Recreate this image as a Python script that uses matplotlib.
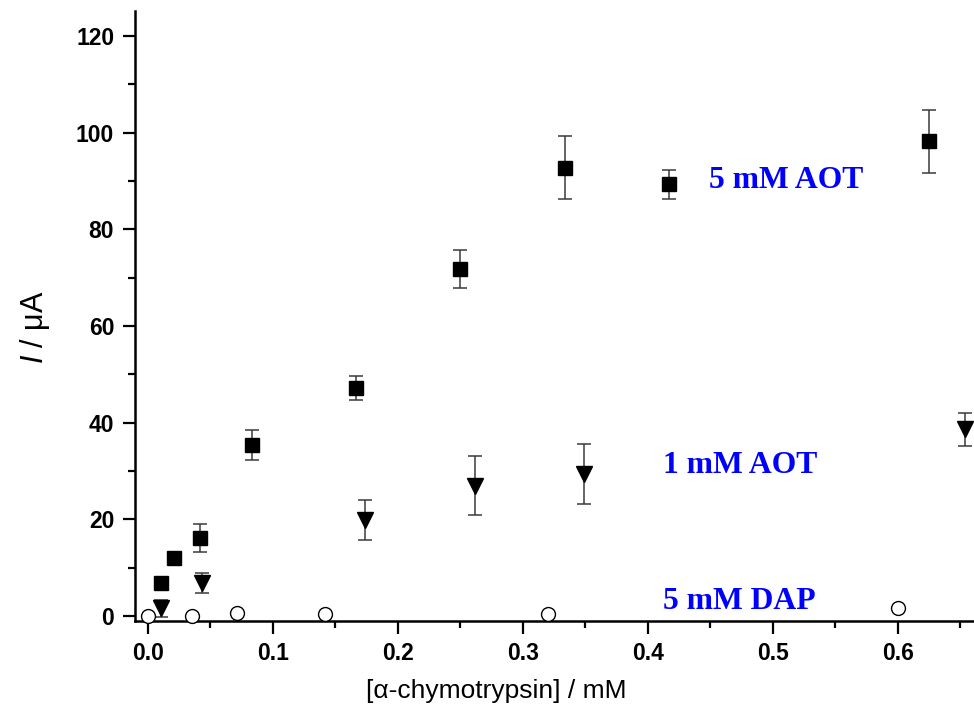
import numpy as np
import matplotlib
matplotlib.use("Agg")
import matplotlib.pyplot as plt
from matplotlib.ticker import MultipleLocator

# ── Datos ───────────────────────────────────────────────────
aot5_x   = [0.0104, 0.0208, 0.0417, 0.0833, 0.1667, 0.25, 0.3333, 0.4167, 0.625]
aot5_y   = [6.9, 12.0, 16.1, 35.4, 47.2, 71.8, 92.8, 89.3, 98.2]
aot5_err = [0.0, 0.0, 2.9, 3.1, 2.5, 4.0, 6.6, 3.0, 6.6]

aot1_x   = [0.0104, 0.0430, 0.1740, 0.2616, 0.3490, 0.6536]
aot1_y   = [1.6, 6.9, 19.9, 27.0, 29.4, 38.6]
aot1_err = [1.7, 2.1, 4.1, 6.1, 6.2, 3.5]

dap_x = [0.0, 0.035, 0.071, 0.142, 0.32, 0.60]
dap_y = [0.0, 0.0, 0.6, 0.5, 0.4, 1.6]

etiquetas = ["5 mM AOT", "1 mM AOT", "5 mM DAP"]
etiq_x = [0.449, 0.412, 0.412]
etiq_y = [90.2, 31.2, 3.1]

plt.rcParams["font.family"] = ["Liberation Sans", "DejaVu Sans"]
plt.rcParams["mathtext.fontset"] = "custom"
plt.rcParams["mathtext.it"] = "Liberation Sans:italic"
plt.rcParams["mathtext.rm"] = "Liberation Sans"

fig = plt.figure(figsize=(9.74, 7.18), dpi=100)
ax = fig.add_axes([0.1386, 0.1351, 0.8614, 0.8496])

ERR = "#3a3a3a"
ax.errorbar(aot5_x, aot5_y, yerr=aot5_err, fmt="s", color="black", ms=9.5,
            ecolor=ERR, elinewidth=1.1, capsize=4.8, capthick=1.1, zorder=3)
ax.errorbar(aot1_x, aot1_y, yerr=aot1_err, fmt="v", color="black", ms=11.5,
            ecolor=ERR, elinewidth=1.1, capsize=4.8, capthick=1.1, zorder=3)
ax.plot(dap_x, dap_y, "o", mfc="white", mec="black", ms=10, mew=1.0,
        zorder=3, clip_on=False)

for t, x, y in zip(etiquetas, etiq_x, etiq_y):
    ax.text(x, y, t, color="#0000ff", fontsize=22.8, fontweight="bold",
            family="Liberation Serif", ha="left", va="center")

ax.set_xlim(-0.0104, 0.6608)
ax.set_ylim(-1.03, 125.2)

for s in ["top", "right"]:
    ax.spines[s].set_visible(False)
for s in ["left", "bottom"]:
    ax.spines[s].set_linewidth(1.8)

ax.xaxis.set_major_locator(MultipleLocator(0.1))
ax.xaxis.set_minor_locator(MultipleLocator(0.05))
ax.yaxis.set_major_locator(MultipleLocator(20))
ax.yaxis.set_minor_locator(MultipleLocator(10))
ax.tick_params(which="major", direction="out", length=9, width=1.6,
               labelsize=16.5, pad=6)
ax.tick_params(which="minor", direction="out", length=5, width=1.6)
ax.set_xticks(np.arange(0, 0.61, 0.1))
ax.set_xticklabels([f"{v:.1f}" for v in np.arange(0, 0.61, 0.1)])
for lbl in ax.get_xticklabels() + ax.get_yticklabels():
    lbl.set_fontweight("bold")

fig.text(0.51, 0.038, "[α-chymotrypsin] / mM", fontsize=19,
         ha="center", va="center")
fig.text(0.036, 0.545, r"$\mathit{I}$ / μA", fontsize=22, rotation=90,
         ha="center", va="center")

fig.savefig("out.png", dpi=100)
